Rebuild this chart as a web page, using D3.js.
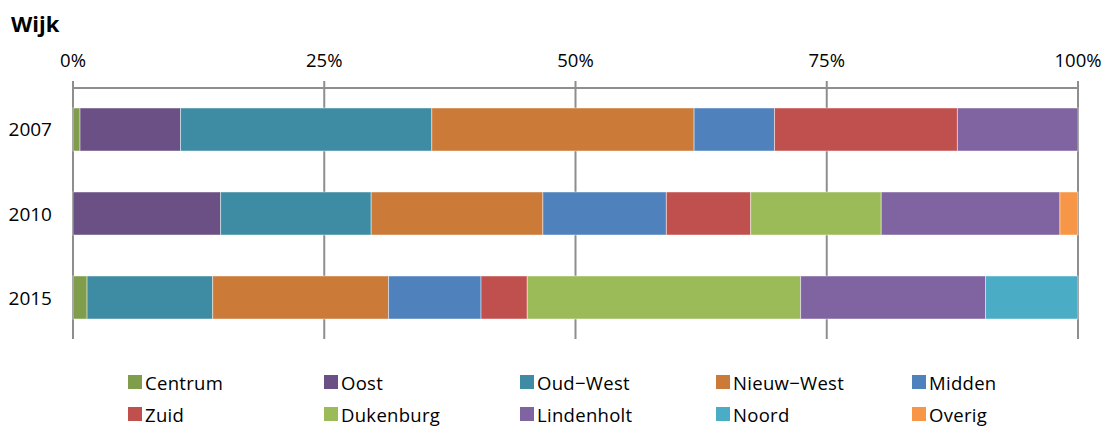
<!DOCTYPE html>
<html><head><meta charset="utf-8">
<script src="https://cdn.jsdelivr.net/npm/d3@7"></script>
<style>body{margin:0;background:#fff;font-family:"Open Sans",sans-serif;}</style>
</head><body><svg id="c" width="1107" height="427"></svg>
<script>
const years = ["2007","2010","2015"];
const wijken = ["Centrum","Oost","Oud−West","Nieuw−West","Midden","Zuid","Dukenburg","Lindenholt","Noord","Overig"];
const colors = ["#7f9d4b","#6a5085","#3d8ca3","#cc7a38","#4f81bd","#c0504d","#9bbb59","#8064a2","#4bacc6","#f79646"];
const centrum    = [0.7, 0.0, 1.4];
const oost       = [10.0, 14.7, 0.0];
const oudWest    = [25.0, 15.0, 12.5];
const nieuwWest  = [26.1, 17.1, 17.5];
const midden     = [8.0, 12.3, 9.2];
const zuid       = [18.2, 8.4, 4.6];
const dukenburg  = [0.0, 13.0, 27.2];
const lindenholt = [12.0, 17.8, 18.4];
const noord      = [0.0, 0.0, 9.2];
const overig     = [0.0, 1.8, 0.0];
const tickLabels = ["0%","25%","50%","75%","100%"];

const series = [centrum,oost,oudWest,nieuwWest,midden,zuid,dukenburg,lindenholt,noord,overig];
const rows = years.map((y,i)=>{const r={year:y}; wijken.forEach((w,j)=>r[w]=series[j][i]); return r;});

const svg = d3.select("#c");
const x = d3.scaleLinear().domain([0,1]).range([73,1078]);
const y = d3.scaleBand().domain(years).range([88,339]).paddingInner(0.488).paddingOuter(0.238);

svg.append("text").attr("x",11).attr("y",32).attr("font-size",22).attr("font-weight","bold").text("Wijk");

// grid + axis
const ticks = [0,0.25,0.5,0.75,1];
const g = svg.append("g");
g.selectAll("line.grid").data(ticks).join("line")
  .attr("x1",d=>x(d)).attr("x2",d=>x(d)).attr("y1",81).attr("y2",339)
  .attr("stroke","#8e8e8e").attr("stroke-width",2);
g.append("line").attr("x1",x(0)).attr("x2",x(1)).attr("y1",88).attr("y2",88).attr("stroke","#8e8e8e").attr("stroke-width",2);
g.selectAll("text.tick").data(ticks).join("text")
  .attr("x",d=>x(d)).attr("y",67).attr("text-anchor","middle").attr("font-size",18.5).attr("fill","#000")
  .text((d,i)=>tickLabels[i]);

const stack = d3.stack().keys(wijken).offset(d3.stackOffsetExpand);
const stacked = stack(rows);
svg.append("g").selectAll("g").data(stacked).join("g")
  .attr("fill",(d,i)=>colors[i])
  .selectAll("rect").data(d=>d.filter(s=>s[1]-s[0]>0)).join("rect")
  .attr("x",d=>x(d[0])).attr("width",d=>x(d[1])-x(d[0]))
  .attr("y",d=>y(d.data.year)).attr("height",y.bandwidth())
  .attr("stroke","rgba(255,255,255,0.45)").attr("stroke-width",1);

svg.append("g").selectAll("text").data(years).join("text")
  .attr("x",52).attr("y",d=>y(d)+y.bandwidth()/2+7).attr("text-anchor","end")
  .attr("font-size",19).text(d=>d);

// legend
const lg = svg.append("g");
wijken.forEach((w,i)=>{
  const col=i%5,row=Math.floor(i/5);
  const lx=128+col*196, ly=375+row*32;
  lg.append("rect").attr("x",lx).attr("y",ly).attr("width",14).attr("height",14).attr("fill",colors[i]);
  lg.append("text").attr("x",lx+17).attr("y",ly+15).attr("font-size",18.5).attr("letter-spacing",0.3).text(w);
});
</script></body></html>
